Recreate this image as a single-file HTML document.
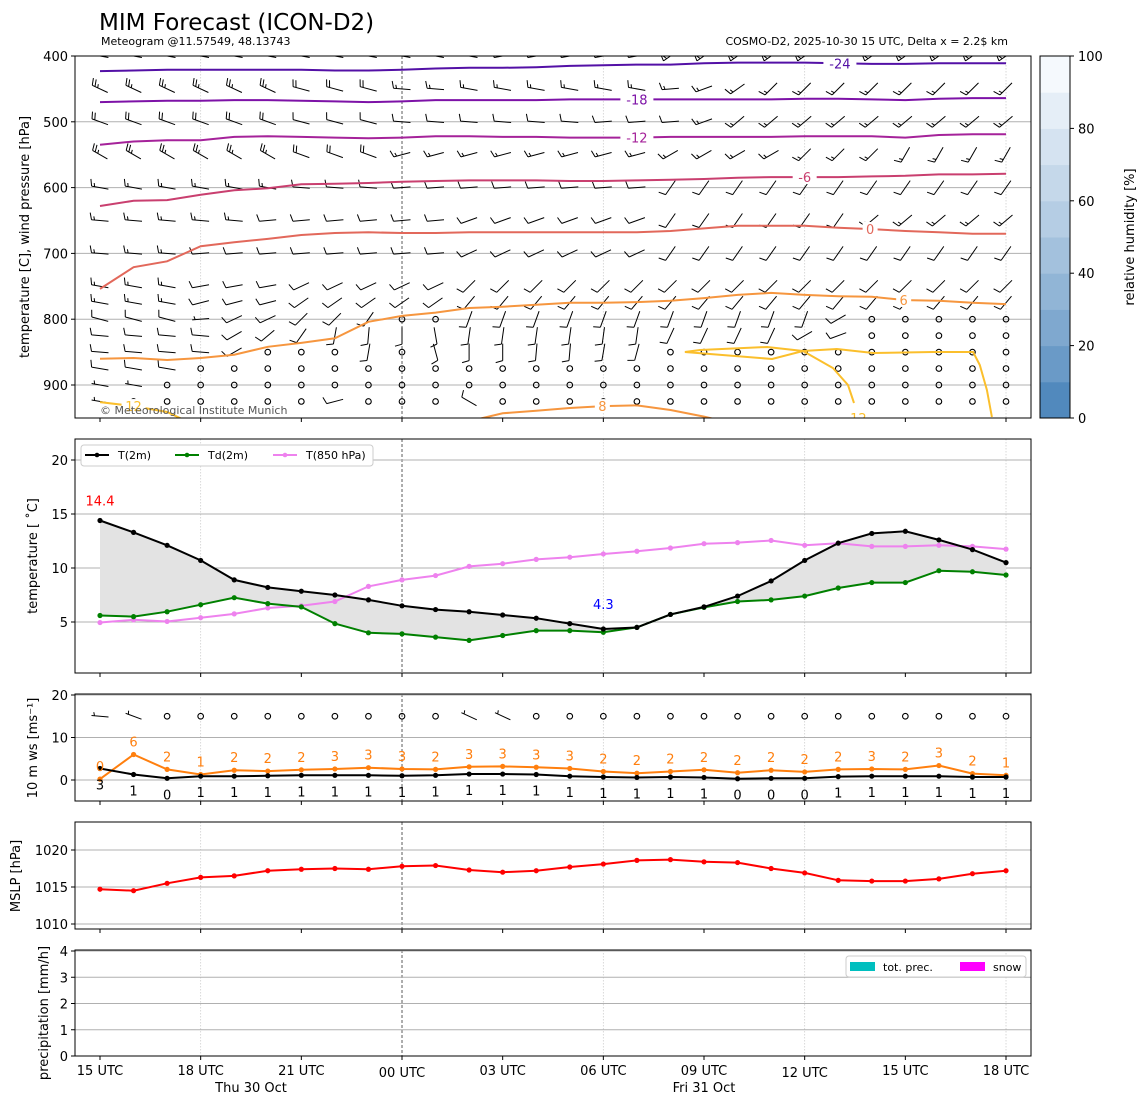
<!DOCTYPE html>
<html><head><meta charset="utf-8"><title>MIM Forecast (ICON-D2)</title>
<style>
html,body{margin:0;padding:0;background:#fff;}
svg{display:block;font-family:"DejaVu Sans","Liberation Sans",sans-serif;}
</style></head>
<body>
<svg id="chart" width="1148" height="1105" viewBox="0 0 1148 1105" xmlns="http://www.w3.org/2000/svg">
<rect x="0" y="0" width="1148" height="1105" fill="#fff"/>
<text x="99" y="30" font-size="23" fill="#000">MIM Forecast (ICON-D2)</text>
<text x="101" y="45" font-size="11" fill="#000">Meteogram @11.57549, 48.13743</text>
<text x="1008" y="45" font-size="11" fill="#000" text-anchor="end">COSMO-D2, 2025-10-30 15 UTC, Delta x = 2.2$ km</text>
<defs>
<clipPath id="clip1"><rect x="75" y="56" width="956" height="362"/></clipPath>
</defs>
<g id="p1"></g>
<g id="cbar"></g>
<g id="p2"></g>
<g id="p3"></g>
<g id="p4"></g>
<g id="p5"></g>
<g id="xaxis"></g>
</svg>
<script>
// ---------------- data ----------------
const hours = [0,1,2,3,4,5,6,7,8,9,10,11,12,13,14,15,16,17,18,19,20,21,22,23,24,25,26,27];
const timeTickHours = [0,3,6,9,12,15,18,21,24,27];
const timeTickLabels = ["15 UTC","18 UTC","21 UTC","00 UTC","03 UTC","06 UTC","09 UTC","12 UTC","15 UTC","18 UTC"];
const dayLabels = ["Thu 30 Oct","Fri 31 Oct"];
const dayLabelHours = [4.5,18];

// isotherms: pressure (hPa) per hour
const isoM24 = [423,422,421,421,421,421,421,422,422,421,419,418,418,417,415,414,413,413,411,410,410,410,411,412,412,411,411,411];
const isoM18 = [470,469,468,468,467,467,468,469,470,469,467,467,467,467,466,466,466,466,466,466,466,465,465,466,467,465,464,464];
const isoM12 = [535,530,528,528,523,522,523,524,525,524,522,522,523,523,524,524,524,523,523,523,523,522,522,522,524,520,519,519];
const isoM6  = [628,620,619,611,604,601,595,594,593,591,590,589,589,589,590,590,589,588,587,585,584,584,584,583,582,580,580,579];
const iso0   = [754,721,712,689,683,678,672,669,668,669,669,668,668,668,668,668,668,666,662,658,658,658,661,663,666,668,670,670];
const iso6   = [860,859,862,859,854,842,836,829,804,795,790,783,781,778,775,775,774,772,768,763,760,763,765,766,771,772,775,777];
const iso8   = [990,990,990,990,990,990,990,990,990,990,975,955,943,939,935,932,931,938,948,960,975,990,990,990,990,990,990,990];
const iso12a = [926,932,941,965,990,990,990,990,990,990,990,990,990,990,990,990,990,990,990,990,990,990,990,990,990,990,990,990];
// closed 12-degree contour near 850 hPa (hour, hPa pairs)
const iso12bHours = [26.58,26.43,26.22,26.02,24.82,23.04,21.96,20.95,20.03,17.43,17.88,19.88,20.95,21.84,22.29,22.47];
const iso12bPres  = [948.6,907.6,869.6,849.8,849.8,851.4,845.3,848.3,860.5,849.8,846.8,842.2,848.3,874.2,900,927.4];

// wind barbs: levels, direction (deg, from), speed (kt; 0 = calm)
const barbLevels = [400,450,500,550,600,650,700,750,775,800,825,850,875,900,925];
const rep = (v,n)=>Array(n).fill(v);
const barbDir = [
 [...rep(280,12),...rep(260,5),...rep(235,11)],
 [...rep(295,6),...rep(285,3),...rep(275,2),...rep(280,6),265,250,235,...rep(225,8)],
 [...rep(290,6),...rep(285,3),...rep(275,6),...rep(265,3),250,...rep(230,9)],
 [...rep(300,6),...rep(290,3),...rep(255,8),...rep(240,4),...rep(225,3),...rep(210,4)],
 [...rep(280,6),...rep(275,3),...rep(265,8),...rep(215,11)],
 [...rep(275,5),...rep(265,6),...rep(250,6),...rep(215,6),...rep(230,5)],
 [...rep(275,3),...rep(265,8),...rep(245,6),...rep(215,11)],
 [...rep(280,3),...rep(260,3),...rep(245,5),...rep(225,17)],
 [...rep(280,3),...rep(255,3),...rep(235,5),...rep(220,17)],
 [285,285,285,265,245,245,225,225,215,0,0,...rep(200,11),240,0,0,0,0,0],
 [275,275,275,275,240,230,215,190,185,180,170,...rep(188,6),205,205,205,205,240,250,0,0,0,0,0],
 [275,275,275,275,240,0,0,0,190,0,165,180,180,185,185,190,195,...rep(0,11)],
 [280,280,280,...rep(0,25)],
 [280,280,...rep(0,26)],
 [280,0,0,0,0,0,0,255,0,0,0,300,...rep(0,16)]
];
const barbSpd = [
 [...rep(20,12),...rep(30,5),...rep(50,11)],
 [...rep(25,6),...rep(20,3),...rep(15,19)],
 [...rep(20,6),...rep(10,12),...rep(15,10)],
 [...rep(25,6),...rep(20,3),...rep(15,19)],
 [...rep(15,6),...rep(10,22)],
 [...rep(15,5),...rep(10,18),...rep(15,5)],
 [...rep(15,3),...rep(10,25)],
 [...rep(15,3),...rep(10,25)],
 [...rep(15,3),...rep(10,25)],
 [10,10,10,5,10,10,10,10,10,0,0,...rep(10,11),10,0,0,0,0,0],
 [...rep(10,23),0,0,0,0,0],
 [10,10,10,10,10,0,0,0,10,0,10,10,10,10,10,10,10,...rep(0,11)],
 [10,10,10,...rep(0,25)],
 [5,5,...rep(0,26)],
 [5,0,0,0,0,0,0,10,0,0,0,10,...rep(0,16)]
];

// surface
const t2m  = [14.4,13.3,12.1,10.7,8.9,8.2,7.85,7.5,7.05,6.5,6.15,5.95,5.65,5.35,4.85,4.35,4.5,5.7,6.4,7.4,8.8,10.7,12.3,13.2,13.4,12.6,11.7,10.5];
const td2m = [5.6,5.5,5.95,6.6,7.25,6.7,6.4,4.85,4.0,3.9,3.6,3.3,3.75,4.2,4.2,4.05,4.5,5.7,6.35,6.9,7.05,7.4,8.15,8.65,8.65,9.75,9.65,9.35];
const t850 = [4.95,5.2,5.05,5.4,5.75,6.3,6.5,6.9,8.3,8.9,9.3,10.15,10.4,10.8,11.0,11.3,11.55,11.85,12.25,12.35,12.55,12.1,12.3,12.0,12.0,12.1,12.0,11.75];
const tTicks = [5,10,15,20];

const gust = [0.2,6,2.5,1.3,2.3,2.1,2.4,2.6,2.9,2.6,2.5,3.1,3.2,3.0,2.7,2.0,1.6,2.0,2.4,1.7,2.3,1.9,2.5,2.6,2.5,3.4,1.5,1.1];
const gustLabels = [0,6,2,1,2,2,2,3,3,3,2,3,3,3,3,2,2,2,2,2,2,2,2,3,2,3,2,1];
const ws10 = [2.7,1.3,0.4,0.9,0.9,1.0,1.1,1.1,1.1,1.0,1.1,1.4,1.4,1.3,0.9,0.7,0.6,0.7,0.6,0.3,0.4,0.4,0.8,0.9,0.9,0.9,0.7,0.7];
const wsLabels = [3,1,0,1,1,1,1,1,1,1,1,1,1,1,1,1,1,1,1,0,0,0,1,1,1,1,1,1];
const wsDir10 = [275,290,0,0,0,0,0,0,0,0,0,295,295,0,0,0,0,0,0,0,0,0,0,0,0,0,0,0];
const wsSpd10 = [5,5,0,0,0,0,0,0,0,0,0,5,5,0,0,0,0,0,0,0,0,0,0,0,0,0,0,0];
const wsTicks = [0,10,20];

const mslp = [1014.7,1014.5,1015.5,1016.3,1016.5,1017.2,1017.4,1017.5,1017.4,1017.8,1017.9,1017.3,1017.0,1017.2,1017.7,1018.1,1018.6,1018.7,1018.4,1018.3,1017.5,1016.9,1015.9,1015.8,1015.8,1016.1,1016.8,1017.2];
const mslpTicks = [1010,1015,1020];

const precip = [0,0,0,0,0,0,0,0,0,0,0,0,0,0,0,0,0,0,0,0,0,0,0,0,0,0,0,0];
const snow   = [0,0,0,0,0,0,0,0,0,0,0,0,0,0,0,0,0,0,0,0,0,0,0,0,0,0,0,0];
const precipTicks = [0,1,2,3,4];
const presTicks = [400,500,600,700,800,900];
const rhTicks = [0,20,40,60,80,100];

// ---------------- scales ----------------
const X0=75, X1=1031;
const X = h => 100 + h*33.556;
const yP = p => 56 + (p-400)*0.658;
const yT = t => 622 - (t-5)*10.8;
const yW = v => 780 - v*4.25;
const yM = m => 887 - (m-1015)*7.4;
const yR = r => 1056 - r*26.25;
const panels = [[56,418],[439,673],[694,801],[822,929],[950,1056]];

const NS='http://www.w3.org/2000/svg';
function mk(tag, attrs, parent){
  const e=document.createElementNS(NS,tag);
  for(const k in attrs) e.setAttribute(k,attrs[k]);
  if(parent) parent.appendChild(e);
  return e;
}
function txt(parent,x,y,s,size,anchor,fill){
  const e=mk('text',{x:x,y:y,'font-size':size,'text-anchor':anchor||'start',fill:fill||'#000'},parent);
  e.textContent=s; return e;
}
function pathFrom(xs,ys){return xs.map((x,i)=>(i?'L':'M')+x.toFixed(1)+','+ys[i].toFixed(1)).join(' ');}

const p1=document.getElementById('p1'),p2=document.getElementById('p2'),p3=document.getElementById('p3'),
      p4=document.getElementById('p4'),p5=document.getElementById('p5'),xa=document.getElementById('xaxis'),cb=document.getElementById('cbar');

// generic frame: grids + vertical lines
function frameGrid(g, top, bot, yticks, yfun, labelFmt, ygrid, sixHourly){
  // vertical grid
  for(let h=3; h<=27; h+= (sixHourly?6:3)){
    if(h===9) continue;
    const v=mk('line',{x1:X(h),x2:X(h),y1:top,y2:bot,stroke:'#cfcfcf','stroke-width':0.8,'stroke-dasharray':'1.5,1.5'},g);
    
    
  }
  const d=mk('line',{x1:X(9),x2:X(9),y1:top,y2:bot,stroke:'#333','stroke-width':0.8,'stroke-dasharray':'3,2'},g);
  
  
  yticks.forEach(t=>{
    const y=yfun(t);
    if(ygrid && y>top+0.5 && y<bot-0.5){
      const gl=mk('line',{x1:X0,x2:X1,y1:y,y2:y,stroke:'#b0b0b0','stroke-width':1},g);
      
      
    }
    mk('line',{x1:X0-4,x2:X0,y1:y,y2:y,stroke:'#000','stroke-width':1},g);
    const l=txt(g,X0-7,y+5,labelFmt(t),13,'end');
    
    
  });
  timeTickHours.forEach(h=>mk('line',{x1:X(h),x2:X(h),y1:bot,y2:bot+4,stroke:'#000','stroke-width':1},g));
}
function frameBox(g, top, bot){
  const r=mk('rect',{x:X0,y:top,width:X1-X0,height:bot-top,fill:'none',stroke:'#000','stroke-width':1},g);
  
  
}
function ylabel(g,x,y,s){
  const e=txt(g,0,0,s,13,'middle');
  e.setAttribute('transform','translate('+x+','+y+') rotate(-90)');
  
  
}

// ---------------- barb drawing ----------------
function barb(g,cx,cy,dir,spd){
  if(!spd){
    const c=mk('circle',{cx:cx,cy:cy,r:2.8,fill:'none',stroke:'#000','stroke-width':1.1},g);
    
    
    return;
  }
  const r=dir*Math.PI/180;
  const ux=Math.sin(r), uy=-Math.cos(r);   // toward flag end
  const L=17;
  const x0=cx-ux*L/2, y0=cy-uy*L/2, x1=cx+ux*L/2, y1=cy+uy*L/2;
  let d='M'+x0.toFixed(1)+','+y0.toFixed(1)+'L'+x1.toFixed(1)+','+y1.toFixed(1);
  const px=-uy, py=ux;
  let s=spd, pos=0;
  const step=3;
  while(s>=50){
    const bx=x1-ux*pos, by=y1-uy*pos;
    d+=' M'+bx.toFixed(1)+','+by.toFixed(1)+' L'+(bx+px*7-ux*1.5).toFixed(1)+','+(by+py*7-uy*1.5).toFixed(1)+' L'+(bx-ux*4).toFixed(1)+','+(by-uy*4).toFixed(1);
    s-=50; pos+=5;
  }
  while(s>=10){
    const bx=x1-ux*pos, by=y1-uy*pos;
    d+=' M'+bx.toFixed(1)+','+by.toFixed(1)+' L'+(bx+px*7+ux*2).toFixed(1)+','+(by+py*7+uy*2).toFixed(1);
    s-=10; pos+=step;
  }
  if(s>=5){
    if(pos===0) pos=step;
    const bx=x1-ux*pos, by=y1-uy*pos;
    d+=' M'+bx.toFixed(1)+','+by.toFixed(1)+' L'+(bx+px*3.5+ux*1).toFixed(1)+','+(by+py*3.5+uy*1).toFixed(1);
  }
  const b=mk('path',{d:d,fill:'none',stroke:'#000','stroke-width':1,'stroke-linejoin':'miter'},g);
  
  
}

// ---------------- panel 1 ----------------
frameGrid(p1,56,418,presTicks,yP,t=>String(t),true,true);
const barbG=mk('g',{'clip-path':'url(#clip1)'},p1);


barbLevels.forEach((lev,i)=>{
  hours.forEach((h,j)=>barb(barbG,X(h),yP(lev),barbDir[i][j],barbSpd[i][j]));
});
const contG=mk('g',{'clip-path':'url(#clip1)'},p1);


const isoSet=[
  [isoM24,'#5310a6','-24',22.05],[isoM18,'#7d12a7','-18',16],[isoM12,'#a5229a','-12',16],
  [isoM6,'#c93f6f','-6',21.0],[iso0,'#e2685b','0',22.95],[iso6,'#f6963f','6',23.95],
  [iso8,'#f6963f','8',14.97],[iso12a,'#fbbf2c','12',1.0]
];
isoSet.forEach(([arr,col,lab,lh])=>{
  const p=mk('path',{d:pathFrom(hours.map(X),arr.map(yP)),fill:'none',stroke:col,'stroke-width':2},contG);
  
  
});
const p12=mk('path',{d:pathFrom(iso12bHours.map(X),iso12bPres.map(yP)),fill:'none',stroke:'#fbbf2c','stroke-width':2},contG);


// contour labels
isoSet.forEach(([arr,col,lab,lh])=>{
  const i=Math.floor(lh), f=lh-i;
  const pv=arr[i]*(1-f)+arr[Math.min(i+1,27)]*f;
  const x=X(lh), y=Math.min(yP(pv),413);
  mk('rect',{x:x-lab.length*4.5-3,y:y-7,width:lab.length*9+6,height:14,fill:'#fff'},contG);
  const t=txt(contG,x,y+5,lab,13,'middle',col);
  
  
});
{
  const t=txt(contG,X(22.6),yP(958),'12',13,'middle','#fbbf2c');
  
  
}
const cr=txt(p1,100,414,'© Meteorological Institute Munich',11,'start','#555');


frameBox(p1,56,418);
ylabel(p1,29,237,'temperature [C], wind pressure [hPa]');

// ---------------- colorbar ----------------
const cbTop=56, cbBot=418, cbX=1040, cbW=30;
const yRH = v => cbBot - v*(cbBot-cbTop)/100;
for(let k=0;k<10;k++){
  const f=k/9;
  const c0=[81,137,189], c1=[245,249,253];
  const c=c0.map((v,i)=>Math.round(v+(c1[i]-v)*Math.pow(f,0.85)));
  const r=mk('rect',{x:cbX,y:yRH((k+1)*10),width:cbW,height:yRH(k*10)-yRH((k+1)*10)+0.5,fill:'rgb('+c.join(',')+')'},cb);
  
  
}
mk('rect',{x:cbX,y:cbTop,width:cbW,height:cbBot-cbTop,fill:'none',stroke:'#000','stroke-width':1},cb);
rhTicks.forEach(v=>{
  mk('line',{x1:cbX+cbW,x2:cbX+cbW+4,y1:yRH(v),y2:yRH(v),stroke:'#000'},cb);
  const t=txt(cb,cbX+cbW+8,yRH(v)+5,String(v),13,'start');
  
  
});
{
  const e=txt(cb,0,0,'relative humidity [%]',13,'middle');
  e.setAttribute('transform','translate(1134,237) rotate(-90)');
  
  
}

// ---------------- panel 2 ----------------
frameGrid(p2,439,673,tTicks,yT,t=>String(t),true,true);
{
  const xs=hours.map(X);
  const d=pathFrom(xs,t2m.map(yT))+' '+pathFrom(xs.slice().reverse(),td2m.map(yT).reverse()).replace('M','L')+'Z';
  const f=mk('path',{d:d,fill:'#e3e3e3',stroke:'none'},p2);
  
  
}
function series(g,vals,yf,col,name,r,w){
  const p=mk('path',{d:pathFrom(hours.map(X),vals.map(yf)),fill:'none',stroke:col,'stroke-width':w||2},g);
  
  
  vals.forEach((v,i)=>{
    const c=mk('circle',{cx:X(hours[i]),cy:yf(v),r:r||2.6,fill:col},g);
    
    
  });
}
series(p2,t850,yT,'#ee82ee','t850');
series(p2,td2m,yT,'#008000','td2m');
series(p2,t2m,yT,'#000','t2m');
{
  let mx=0,mn=0;
  t2m.forEach((v,i)=>{if(v>t2m[mx])mx=i; if(v<t2m[mn])mn=i;});
  const a=txt(p2,X(hours[mx]),yT(t2m[mx])-15,t2m[mx].toFixed(1),13,'middle','#f00');
  
  
  const b=txt(p2,X(hours[mn]),yT(t2m[mn])-20,t2m[mn].toFixed(1),13,'middle','#00f');
  
  
}
{
  const lg=mk('g',{},p2);
  
  
  mk('rect',{x:81,y:445,width:292,height:21,rx:3,fill:'#fff',stroke:'#ccc','stroke-width':1},lg);
  [[85,'#000','T(2m)'],[175,'#008000','Td(2m)'],[273,'#ee82ee','T(850 hPa)']].forEach(([x,c,s])=>{
    const e=mk('g',{},lg);
    
    
    mk('line',{x1:x,x2:x+24,y1:455,y2:455,stroke:c,'stroke-width':2},e);
    mk('circle',{cx:x+12,cy:455,r:2.3,fill:c},e);
    txt(e,x+33,459,s,11,'start');
  });
}
frameBox(p2,439,673);
ylabel(p2,37,556,'temperature [ ˚C]');

// ---------------- panel 3 ----------------
frameGrid(p3,694,801,wsTicks,yW,t=>String(t),true,true);
hours.forEach((h,j)=>barb(p3,X(h),yW(15),wsDir10[j],wsSpd10[j]));
series(p3,gust,yW,'#ff7f0e','gust');
series(p3,ws10,yW,'#000','wind-speed');
gust.forEach((v,i)=>{
  const t=txt(p3,X(hours[i]),yW(v)-8,String(gustLabels[i]),13,'middle','#ff7f0e');
  
  
});
ws10.forEach((v,i)=>{
  const t=txt(p3,X(hours[i]),yW(v)+21,String(wsLabels[i]),13,'middle','#000');
  
  
});
frameBox(p3,694,801);
ylabel(p3,37,748,'10 m ws [ms⁻¹]');

// ---------------- panel 4 ----------------
frameGrid(p4,822,929,mslpTicks,yM,t=>String(t),true,true);
series(p4,mslp,yM,'#f00','mslp');
frameBox(p4,822,929);
ylabel(p4,20,876,'MSLP [hPa]');

// ---------------- panel 5 ----------------
frameGrid(p5,950,1056,precipTicks,yR,t=>String(t),true,true);
precip.forEach((v,i)=>{
  const b=mk('rect',{x:X(hours[i])-10,y:yR(v),width:20,height:yR(0)-yR(v),fill:'#00bfbf'},p5);
  
  
});
snow.forEach((v,i)=>{
  const b=mk('rect',{x:X(hours[i])-10,y:yR(v),width:20,height:yR(0)-yR(v),fill:'#ff00ff'},p5);
  
  
});
{
  const lg=mk('g',{},p5);
  
  
  mk('rect',{x:846,y:956,width:180,height:21,rx:3,fill:'#fff',stroke:'#ccc','stroke-width':1},lg);
  [[850,'#00bfbf','tot. prec.'],[960,'#ff00ff','snow']].forEach(([x,c,s])=>{
    const e=mk('g',{},lg);
    
    
    mk('rect',{x:x,y:962,width:25,height:9,fill:c},e);
    txt(e,x+33,971,s,11,'start');
  });
}
frameBox(p5,950,1056);
ylabel(p5,48,1013,'precipitation [mm/h]');

// ---------------- x axis ----------------
timeTickHours.forEach((h,i)=>{
  const low = (h===9||h===21);
  const t=txt(xa,X(h),low?1077:1075,timeTickLabels[i],13,'middle');
  
  
});
dayLabels.forEach((s,i)=>{
  const t=txt(xa,X(dayLabelHours[i]),1092,s,13,'middle');
  
  
});
</script>
</body></html>
